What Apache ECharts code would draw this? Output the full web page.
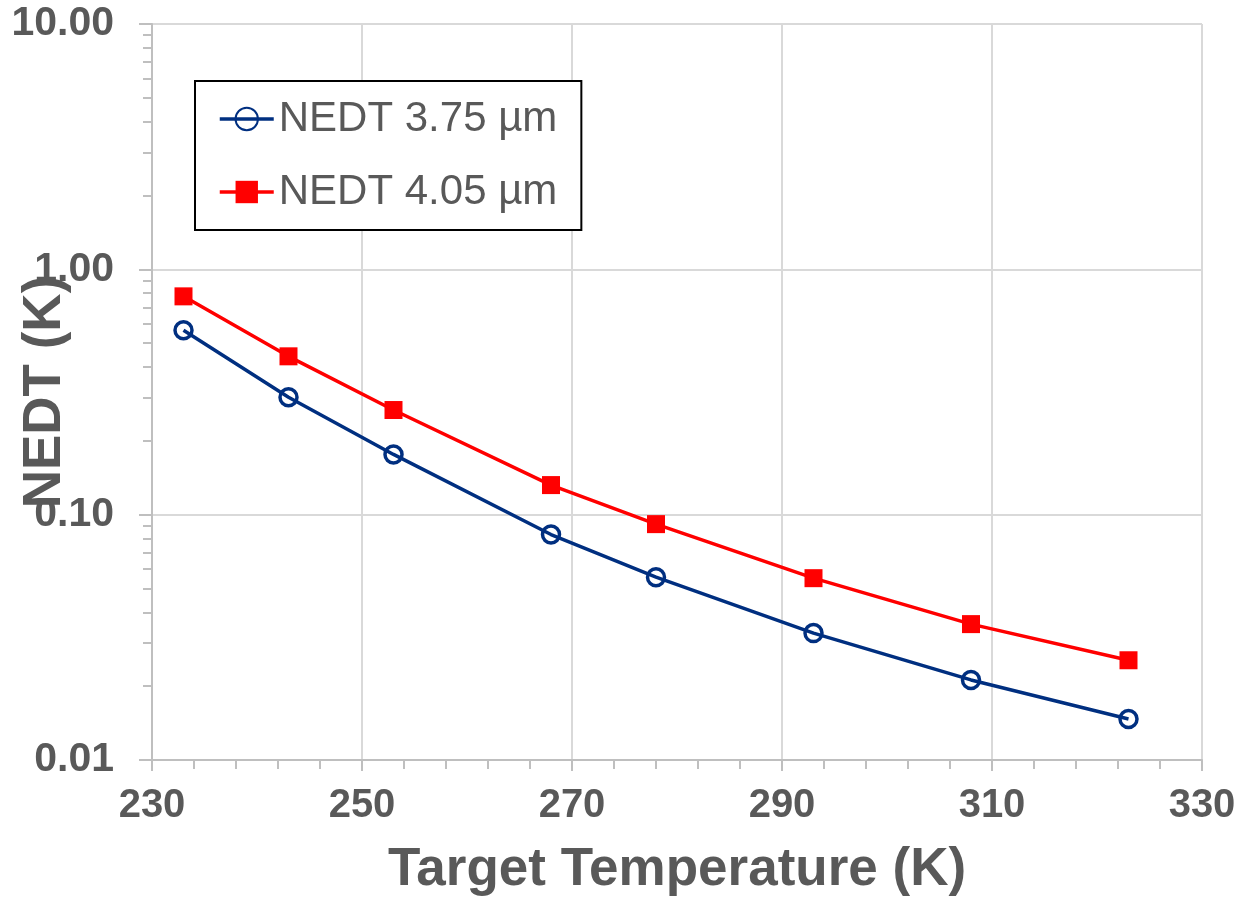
<!DOCTYPE html>
<html>
<head>
<meta charset="utf-8">
<script src="https://cdn.jsdelivr.net/npm/echarts@6/dist/echarts.min.js"></script>
<style>
  html, body { margin: 0; padding: 0; background: #fff; }
  #chart { width: 1243px; height: 905px; }
</style>
</head>
<body>
<div id="chart"></div>
<script>
// 目标温度 (K)
const temps = [233, 243, 253, 268, 278, 293, 308, 323];
// NEDT 数据 (K)
const nedt375 = [0.565, 0.301, 0.176, 0.083, 0.0556, 0.0329, 0.0212, 0.0147];
const nedt405 = [0.776, 0.442, 0.267, 0.132, 0.0915, 0.0551, 0.0358, 0.0255];
const seriesNames = ['NEDT 3.75 µm', 'NEDT 4.05 µm'];

// 对数轴次刻度 2..9
const minorLogTicks = [];
[0.01, 0.1, 1].forEach(base => {
  for (let k = 2; k <= 9; k++) minorLogTicks.push(+(base * k).toPrecision(3));
});

const textColor = '#595959';
const font = 'Liberation Sans, Arial, sans-serif';
const blue = '#002f80';
const red = '#ff0000';

const chart = echarts.init(document.getElementById('chart'), null, { renderer: 'canvas' });

const option = {
  backgroundColor: '#fff',
  animation: false,
  textStyle: { fontFamily: font },
  grid: { left: 152, right: 41, top: 24, bottom: 145, outerBoundsMode: 'none', containLabel: false },
  legend: {
    orient: 'vertical',
    left: 195,
    top: 81,
    padding: [16, 24, 16, 23],
    itemGap: 29,
    itemWidth: 54,
    itemHeight: 28,
    borderColor: '#000',
    borderWidth: 2,
    backgroundColor: '#fff',
    lineStyle: { width: 3.5 },
    textStyle: { color: textColor, fontSize: 42, fontFamily: font, lineHeight: 44 },
    data: seriesNames
  },
  xAxis: {
    type: 'value',
    min: 230,
    max: 330,
    interval: 20,
    name: 'Target Temperature (K)',
    nameLocation: 'middle',
    nameGap: 84,
    nameMoveOverlap: false,
    nameTextStyle: { color: textColor, fontSize: 53, fontWeight: 'bold', fontFamily: font },
    axisLine: { show: true, lineStyle: { color: '#bfbfbf', width: 2 } },
    axisTick: { show: true, length: 11, lineStyle: { color: '#bfbfbf', width: 2 } },
    minorTick: { show: true, splitNumber: 5, length: 9, lineStyle: { color: '#bfbfbf', width: 2 } },
    axisLabel: { color: textColor, fontSize: 40, fontWeight: 'bold', margin: 26, fontFamily: font },
    splitLine: { show: true, lineStyle: { color: '#d9d9d9', width: 2 } }
  },
  yAxis: [
    {
      type: 'log',
      logBase: 10,
      min: 0.01,
      max: 10,
      name: 'NEDT (K)',
      nameLocation: 'middle',
      nameGap: 80,
      nameMoveOverlap: false,
      nameTextStyle: { color: textColor, fontSize: 53, fontWeight: 'bold', fontFamily: font },
      axisLine: { show: true, lineStyle: { color: '#bfbfbf', width: 2 } },
      axisTick: { show: true, length: 13, lineStyle: { color: '#bfbfbf', width: 2 } },
      axisLabel: {
        color: textColor, fontSize: 41, fontWeight: 'bold', margin: 38, fontFamily: font,
        formatter: v => v.toFixed(2)
      },
      splitLine: { show: true, lineStyle: { color: '#d9d9d9', width: 2 } }
    },
    {
      // 仅用于绘制次刻度
      type: 'log',
      logBase: 10,
      min: 0.01,
      max: 10,
      position: 'left',
      axisLine: { show: false },
      axisTick: { show: true, length: 9, customValues: minorLogTicks, lineStyle: { color: '#bfbfbf', width: 2 } },
      axisLabel: { show: false },
      splitLine: { show: false }
    }
  ],
  series: [
    {
      name: seriesNames[0],
      type: 'line',
      data: temps.map((t, i) => [t, nedt375[i]]),
      symbol: 'circle',
      symbolSize: 17,
      lineStyle: { color: blue, width: 3.5 },
      itemStyle: { color: 'rgba(255,255,255,0)', borderColor: blue, borderWidth: 3.5 },
      z: 3
    },
    {
      name: seriesNames[1],
      type: 'line',
      data: temps.map((t, i) => [t, nedt405[i]]),
      symbol: 'rect',
      symbolSize: 18,
      lineStyle: { color: red, width: 3.5 },
      itemStyle: { color: red },
      z: 2
    }
  ]
};

chart.setOption(option);
</script>
</body>
</html>
